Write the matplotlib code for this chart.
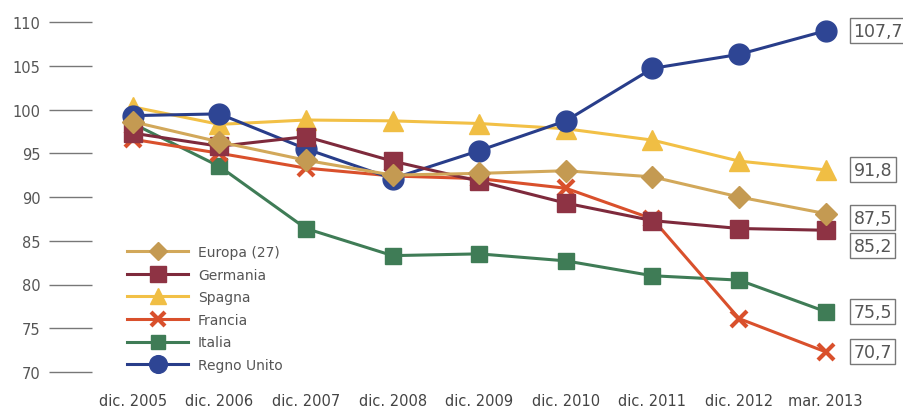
import matplotlib
matplotlib.use("Agg")
import matplotlib.pyplot as plt

categories = ["dic. 2005", "dic. 2006", "dic. 2007", "dic. 2008", "dic. 2009",
              "dic. 2010", "dic. 2011", "dic. 2012", "mar. 2013"]

europa = [98.6, 96.3, 94.2, 92.5, 92.7, 93.0, 92.3, 90.0, 88.1]
germania = [97.3, 95.8, 96.9, 94.1, 91.8, 89.3, 87.3, 86.4, 86.2]
spagna = [100.3, 98.3, 98.8, 98.7, 98.4, 97.8, 96.5, 94.1, 93.1]
francia = [96.6, 95.0, 93.3, 92.4, 92.1, 91.0, 87.5, 76.1, 72.3]
italia = [98.4, 93.5, 86.4, 83.3, 83.5, 82.7, 81.0, 80.5, 76.9]
regno_unito = [99.3, 99.5, 95.5, 92.1, 95.3, 98.7, 104.7, 106.3, 109.0]

series_names = ["Europa (27)", "Germania", "Spagna", "Francia", "Italia", "Regno Unito"]
end_labels = ["87,5", "85,2", "91,8", "70,7", "75,5", "107,7"]

yticks = [70, 75, 80, 85, 90, 95, 100, 105, 110]

fig = plt.figure(figsize=(9.04, 4.10), dpi=100)
ax = fig.add_axes([92 / 904, 1 - 373 / 410, (850 - 92) / 904, (373 - 23) / 410])

x = list(range(len(categories)))
data = [europa, germania, spagna, francia, italia, regno_unito]
styles = [
    dict(color="#D2A85A", mfc="#C49A52", marker="D", ms=11, z=6),
    dict(color="#7E2A3C", mfc="#8E3344", marker="s", ms=13, z=5),
    dict(color="#F2C046", mfc="#F0BE44", marker="^", ms=14, z=1),
    dict(color="#D9502C", mfc="#D9502C", marker="x", ms=12, z=3),
    dict(color="#3F7C56", mfc="#3F7C56", marker="s", ms=12, z=2),
    dict(color="#283D8A", mfc="#2E4594", marker="o", ms=15, z=4),
]
label_dy = [-3, -11, 0, 0, 0, 0]

for name, vals, st, lab, dy in zip(series_names, data, styles, end_labels, label_dy):
    kw = dict(color=st["color"], lw=2.2, marker=st["marker"], ms=st["ms"],
              mfc=st["mfc"], mec=st["mfc"], zorder=st["z"], clip_on=False, label=name)
    if st["marker"] == "x":
        kw["mew"] = 3
    ax.plot(x, vals, **kw)
    ax.annotate(lab, xy=(x[-1], vals[-1]), xytext=(20, dy), textcoords="offset points",
                ha="left", va="center", fontsize=12.5, color="#555555",
                bbox=dict(boxstyle="square,pad=0.2", fc="white", ec="#777777", lw=1),
                annotation_clip=False)

ax.set_ylim(70, 110)
ax.set_xlim(-0.47, 8.28)
ax.set_yticks(yticks)
ax.set_yticklabels([str(v) for v in yticks])
ax.set_xticks(x)
ax.set_xticklabels(categories)
for s in ax.spines.values():
    s.set_visible(False)
ax.tick_params(axis="y", length=31, width=1, color="#777777", pad=6,
               labelsize=10.5, labelcolor="#555555")
ax.tick_params(axis="x", length=0, pad=15, labelsize=10.5, labelcolor="#444444")

leg = fig.legend(loc="upper left", bbox_to_anchor=(120 / 904, 1 - 239 / 410),
                 frameon=False, fontsize=10, handlelength=4.4, handletextpad=0.7,
                 labelspacing=0.62, borderpad=0, markerscale=0.85)
for t in leg.get_texts():
    t.set_color("#555555")

fig.savefig("out.png", dpi=100)
